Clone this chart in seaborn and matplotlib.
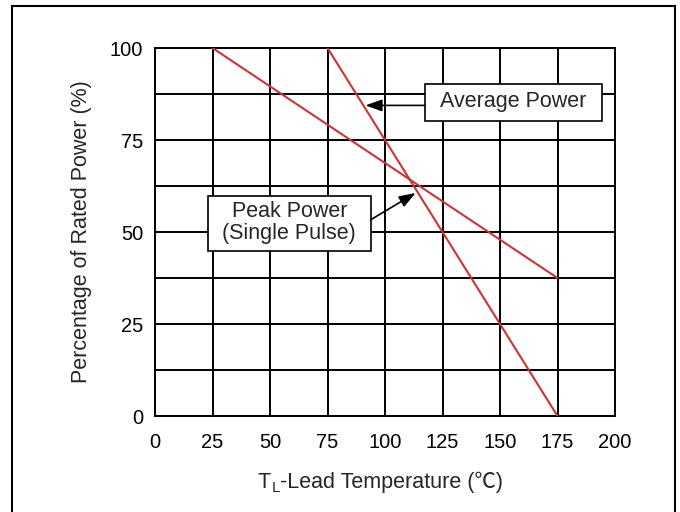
import matplotlib
matplotlib.use("Agg")
import matplotlib.pyplot as plt
import seaborn as sns
import pandas as pd
from matplotlib.patches import Rectangle

# Data
avg_temp = [75, 175]
avg_power = [100, 0]
peak_temp = [25, 175]
peak_power = [100, 37.5]
x_ticks = [0, 25, 50, 75, 100, 125, 150, 175, 200]
y_ticks = [0, 25, 50, 75, 100]
y_minor = [12.5, 37.5, 62.5, 87.5]

sns.set_style("white")
plt.rcParams['font.family'] = ['Liberation Sans', 'Noto Sans CJK SC', 'DejaVu Sans']

fig = plt.figure(figsize=(6.8, 5.12), dpi=100)
ax = fig.add_axes([155/680, 1-416/512, (615-155)/680, (416-48)/512])

df = pd.concat([
    pd.DataFrame({'temp': avg_temp, 'power': avg_power, 'series': 'Average Power'}),
    pd.DataFrame({'temp': peak_temp, 'power': peak_power, 'series': 'Peak Power'}),
])
sns.lineplot(data=df, x='temp', y='power', units='series', estimator=None,
             color='#cc3333', linewidth=1.5, ax=ax, legend=False, zorder=3)

ax.set_xlim(0, 200)
ax.set_ylim(0, 100)
ax.set_xticks(x_ticks)
ax.set_yticks(y_ticks)
ax.set_yticks(y_minor, minor=True)
ax.grid(True, which='both', color='black', linewidth=1.4)
ax.tick_params(axis='both', which='both', length=0, labelsize=14.5, colors='black')
ax.tick_params(axis='x', pad=12.5)
ax.tick_params(axis='y', pad=8.5)
for s in ax.spines.values():
    s.set_color('black')
    s.set_linewidth(1.4)

ax.set_xlabel('')
ax.set_ylabel('Percentage of Rated Power (%)', fontsize=15.5, labelpad=13)

# x-axis label built from pieces (T, subscript L, rest)
base_y = (416 - 488) / 368
t1 = ax.text((258 - 155) / 460, base_y, 'T', transform=ax.transAxes, fontsize=15.5,
             ha='left', va='baseline')
t2 = ax.annotate('L', xy=(1, base_y), xycoords=(t1, 'axes fraction'),
                 xytext=(0.2, -3.0), textcoords='offset points',
                 fontsize=11, ha='left', va='baseline')
t3 = ax.annotate('-Lead Temperature (℃)', xy=(1, base_y), xycoords=(t2, 'axes fraction'),
                 xytext=(0.2, 0), textcoords='offset points',
                 fontsize=15.5, ha='left', va='baseline')

# annotation boxes
ax.add_patch(Rectangle((117.3, 80.2), 77.0, 10.0, facecolor='white', edgecolor='black',
                       linewidth=1.2, zorder=5))
ax.text(155.8, 85.4, 'Average Power', fontsize=15.5, ha='center', va='center', zorder=6)
ax.annotate('', xy=(91.5, 84.4), xytext=(117.3, 84.4),
            arrowprops=dict(arrowstyle='-|>,head_length=1.0,head_width=0.36',
                            color='black', lw=1.2, shrinkA=0, shrinkB=0), zorder=6)

ax.add_patch(Rectangle((23.2, 44.8), 70.5, 15.0, facecolor='white', edgecolor='black',
                       linewidth=1.2, zorder=5))
ax.text(58.4, 52.5, 'Peak Power\n(Single Pulse)', fontsize=15.5, ha='center', va='center',
        zorder=6, linespacing=1.05)
ax.annotate('', xy=(113.3, 60.6), xytext=(93.7, 53.3),
            arrowprops=dict(arrowstyle='-|>,head_length=1.0,head_width=0.36',
                            color='black', lw=1.2, shrinkA=0, shrinkB=0), zorder=6)

fig.patches.append(Rectangle((12/680, -0.05), (675-12)/680, 1.05 - 6/512,
                             transform=fig.transFigure, fill=False,
                             edgecolor='black', linewidth=1.5))

fig.savefig('out.png', dpi=100)
